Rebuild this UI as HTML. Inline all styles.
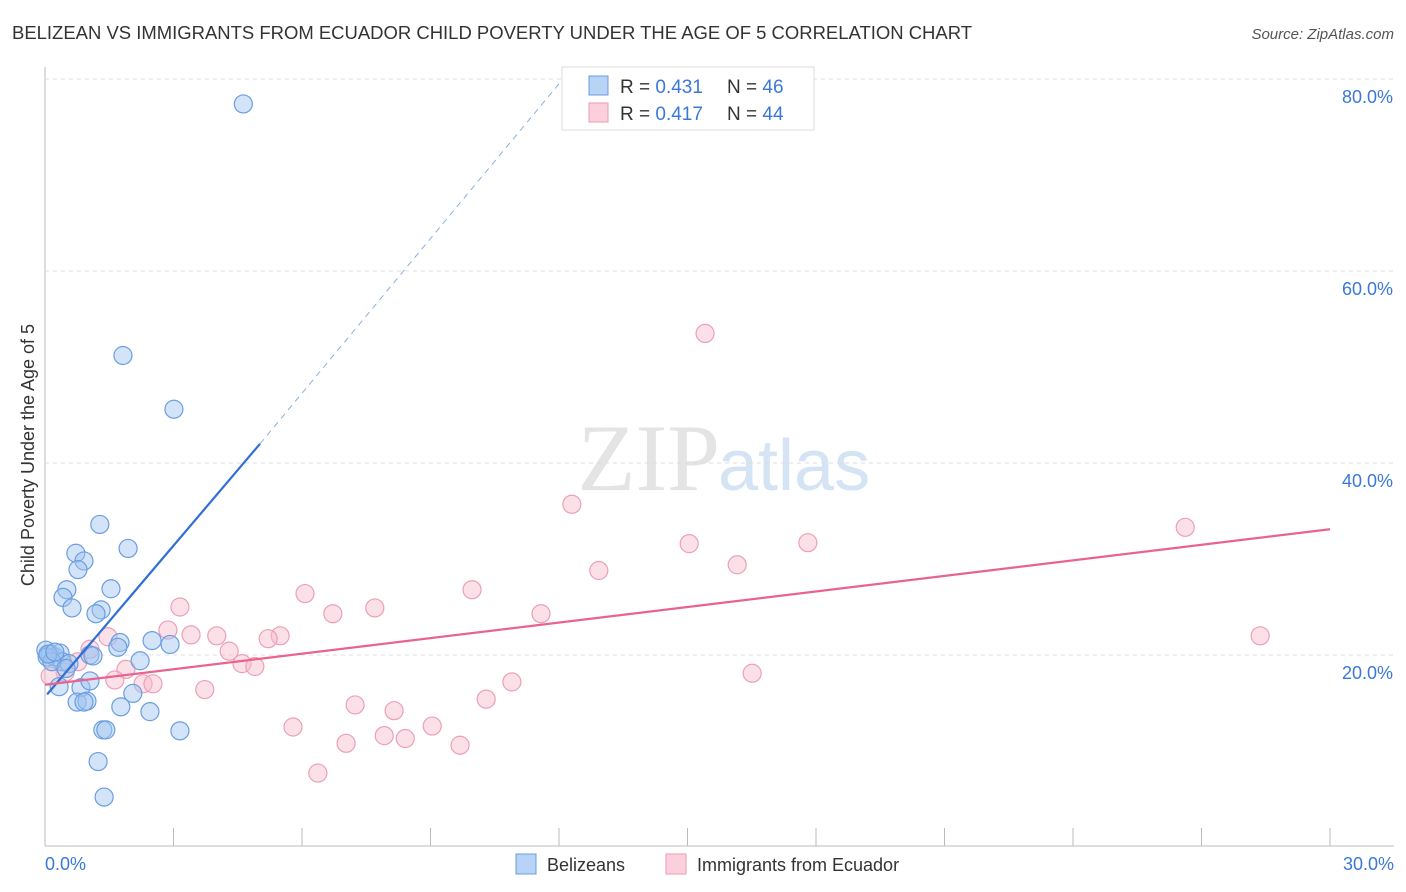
<!DOCTYPE html>
<html><head><meta charset="utf-8"><style>
body{margin:0;background:#fff;font-family:"Liberation Sans",sans-serif;}
svg{display:block}
</style></head><body>
<svg id="c" width="1406" height="892">
<text x="12" y="39" font-size="18" textLength="960" lengthAdjust="spacingAndGlyphs" fill="#333">BELIZEAN VS IMMIGRANTS FROM ECUADOR CHILD POVERTY UNDER THE AGE OF 5 CORRELATION CHART</text>
<text x="1394" y="39" font-size="15" fill="#555" font-style="italic" text-anchor="end">Source: ZipAtlas.com</text>
<text x="720" y="490" font-size="95" fill="#e4e4e4" text-anchor="end" font-family="Liberation Serif,serif">ZIP</text>
<text x="718" y="490" font-size="72" fill="#d5e4f5">atlas</text>
<text transform="translate(34,455) rotate(-90)" font-size="18" fill="#333" text-anchor="middle">Child Poverty Under the Age of 5</text>
<g id="grid"></g><g id="marks"></g>
<g>
<rect x="562" y="67" width="252" height="63" fill="#fff" stroke="#ddd"/>
<rect x="589" y="76" width="19" height="19" fill="#b7d3f5" stroke="#6a9ee0"/>
<rect x="589" y="103" width="19" height="19" fill="#fbd0dc" stroke="#eb9ab3"/>
<text x="620" y="93" font-size="19" fill="#333">R = <tspan fill="#3a78d8">0.431</tspan></text>
<text x="727" y="93" font-size="19" fill="#333">N = <tspan fill="#3a78d8">46</tspan></text>
<text x="620" y="120" font-size="19" fill="#333">R = <tspan fill="#3a78d8">0.417</tspan></text>
<text x="727" y="120" font-size="19" fill="#333">N = <tspan fill="#3a78d8">44</tspan></text>
</g>
<g>
<rect x="516" y="854" width="20" height="20" fill="#b7d3f5" stroke="#6a9ee0"/>
<text x="547" y="871" font-size="18" fill="#333">Belizeans</text>
<rect x="666" y="854" width="20" height="20" fill="#fbd0dc" stroke="#eb9ab3"/>
<text x="697" y="871" font-size="18" fill="#333">Immigrants from Ecuador</text>
</g>
</svg>
<script>
const xTicks=[0,30];
const yTicks=[20,40,60,80];
const blueX=[4.63,1.82,3.01,1.28,0.72,0.91,1.94,0.77,0.51,0.42,1.54,0.63,1.31,1.19,0.02,0.12,0.23,0.35,0.40,0.56,1.05,1.12,1.75,1.70,2.50,2.92,2.22,0.33,0.84,1.05,2.05,0.75,0.98,0.91,1.77,2.45,1.35,1.42,3.15,1.24,1.38,0.05,0.16,0.07,0.23,0.49];
const blueY=[77.4,51.2,45.6,33.6,30.6,29.8,31.1,28.9,26.8,26.0,26.9,24.9,24.7,24.3,20.5,20.1,19.8,20.2,19.3,19.1,20.0,19.9,21.3,20.8,21.5,21.1,19.4,16.7,16.6,17.3,16.0,15.1,15.2,15.1,14.6,14.1,12.2,12.2,12.1,8.9,5.2,19.8,19.3,20.1,20.3,18.6];
const pinkX=[15.41,12.30,26.62,15.04,17.81,16.16,12.93,6.07,9.97,3.15,7.70,6.72,11.58,2.87,3.41,4.01,5.49,5.21,4.30,1.47,1.05,0.77,4.60,4.90,1.89,1.63,2.29,2.52,0.47,0.12,28.37,16.51,3.73,10.90,10.30,7.24,8.15,5.79,9.04,7.92,8.41,7.03,9.69,6.37];
const pinkY=[53.5,35.7,33.3,31.6,31.7,29.4,28.8,26.4,26.8,25.0,24.9,24.3,24.3,22.6,22.1,22.0,22.0,21.7,20.4,21.9,20.6,19.3,19.1,18.8,18.5,17.4,17.0,17.0,18.2,17.8,22.0,18.1,16.4,17.2,15.4,14.8,14.2,12.5,12.6,11.6,11.3,10.8,10.6,7.7];
const blueLine=[[0.05,15.9],[5.02,42.0]];
const blueDash=[[5.02,42.0],[12.0,79.5]];
const pinkLine=[[0,16.9],[30,33.1]];
const X=v=>45+v/30*1285, Y=v=>847-v*9.6;
const NS="http://www.w3.org/2000/svg";
const g=document.getElementById('grid'), m=document.getElementById('marks');
function el(t,a,p){const e=document.createElementNS(NS,t);for(const k in a)e.setAttribute(k,a[k]);p.appendChild(e);return e;}
let ax=el('line',{x1:45,y1:67,x2:45,y2:846,stroke:'#bbb'},g);


let bx=el('line',{x1:45,y1:846,x2:1394,y2:846,stroke:'#bbb'},g);


for(let i=1;i<=10;i++){let t=el('line',{x1:X(i*3),y1:828,x2:X(i*3),y2:846,stroke:'#bbb'},g);

}
yTicks.forEach(v=>{let l=el('line',{x1:45,y1:Y(v),x2:1394,y2:Y(v),stroke:'#ddd','stroke-dasharray':'4,4'},g);


let t=el('text',{x:1393,y:Y(v)+24,'font-size':18,fill:'#3a78d8','text-anchor':'end'},g);t.textContent=v.toFixed(1)+'%';

});
xTicks.forEach((v,i)=>{let t=el('text',{x:i?1394:45,y:870,'font-size':18,fill:'#3a78d8','text-anchor':i?'end':'start'},g);t.textContent=v.toFixed(1)+'%';

});
pinkX.forEach((x,i)=>{let c=el('circle',{cx:X(x),cy:Y(pinkY[i]),r:9,fill:'rgba(248,187,205,0.45)',stroke:'#eba0b8','stroke-width':1.2},m);

});
blueX.forEach((x,i)=>{let c=el('circle',{cx:X(x),cy:Y(blueY[i]),r:9,fill:'rgba(160,196,240,0.45)',stroke:'#6a9ee0','stroke-width':1.2},m);

});
let l1=el('line',{x1:X(blueLine[0][0]),y1:Y(blueLine[0][1]),x2:X(blueLine[1][0]),y2:Y(blueLine[1][1]),stroke:'#2f6fd6','stroke-width':2.2},m);


let l2=el('line',{x1:X(blueDash[0][0]),y1:Y(blueDash[0][1]),x2:X(blueDash[1][0]),y2:Y(blueDash[1][1]),stroke:'#8ab0e0','stroke-width':1,'stroke-dasharray':'6,5'},m);


let l3=el('line',{x1:X(pinkLine[0][0]),y1:Y(pinkLine[0][1]),x2:X(pinkLine[1][0]),y2:Y(pinkLine[1][1]),stroke:'#e8648e','stroke-width':2.2},m);


</script>
</body></html>
